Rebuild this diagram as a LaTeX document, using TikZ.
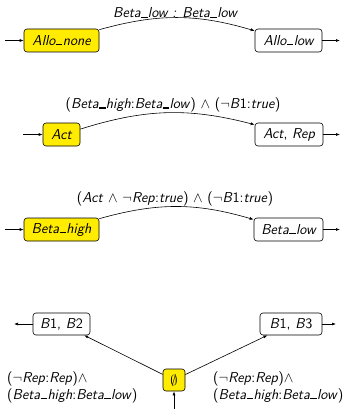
\documentclass[tikz,border=0pt]{standalone}
\usepackage{amssymb}
\usetikzlibrary{arrows.meta}
\definecolor{stateyellow}{RGB}{255,236,0}
\tikzset{
  state/.style={draw, rounded corners=3pt, line width=0.6pt, inner sep=0pt,
    minimum height=23pt, font=\sffamily\itshape},
  initstate/.style={state, fill=stateyellow},
  tr/.style={-{Latex[length=4pt,width=3pt]}, line width=0.6pt},
  lbl/.style={font=\sffamily\itshape, inner sep=0pt},
}
\newcommand{\up}[1]{\textup{#1}}
\newcommand{\tneg}{$\neg$}
\newcommand{\tand}{$\wedge$}
% short underscore sitting on the baseline
\newcommand{\us}{\kern0.03em\rule{0.45em}{0.085em}\kern0.03em}
\begin{document}
\begin{tikzpicture}[x=1pt,y=-1pt]
\useasboundingbox (0,0) rectangle (344,409);
\fontsize{14.4}{17}\selectfont
% row 1
\node[initstate, minimum width=75pt] (an) at (61.5,40.5) {Allo\us none};
\node[state, minimum width=67pt] (al) at (288.5,40.5) {Allo\us low};
\coordinate (an-in) at (5,40.5);
\coordinate (al-out) at (340,40.5);
\draw[tr] (an-in) -- (an);
\draw[tr] (al) -- (al-out);
\draw[tr] (an) to[bend left=16] (al);
\node[lbl] (l1) at (175,13) {Beta\us low : Beta\us low};
% row 2
\node[initstate, minimum width=37pt] (ac) at (61.5,134.5) {Act};
\node[state, minimum width=68pt] (ar) at (289,134.5) {Act\up{,} Rep};
\coordinate (ac-in) at (23,134.5);
\coordinate (ar-out) at (340,134.5);
\draw[tr] (ac-in) -- (ac);
\draw[tr] (ar) -- (ar-out);
\draw[tr] (ac) to[bend left=16] (ar);
\node[lbl] (l2) at (173,105) {\up{(}Beta\us high\up{:}Beta\us low\up{)} \up{\tand} \up{(}\up{\tneg}B\up{1:}true\up{)}};
% row 3
\node[initstate, minimum width=75pt] (bh) at (61.5,229.5) {Beta\us high};
\node[state, minimum width=69pt] (bl) at (288.5,229.5) {Beta\us low};
\coordinate (bh-in) at (5,229.5);
\coordinate (bl-out) at (340,229.5);
\draw[tr] (bh-in) -- (bh);
\draw[tr] (bl) -- (bl-out);
\draw[tr] (bh) to[bend left=16] (bl);
\node[lbl] (l3) at (175,199) {\up{(}Act \up{\tand} \up{\tneg}Rep\up{:}true\up{)} \up{\tand} \up{(}\up{\tneg}B\up{1:}true\up{)}};
% row 4
\node[state, minimum width=57pt, minimum height=22pt] (b12) at (61.5,324) {B\up{1,} B\up{2}};
\node[state, minimum width=62pt, minimum height=22pt] (b13) at (291,324) {B\up{1,} B\up{3}};
\node[initstate, minimum width=22pt, minimum height=22pt] (e) at (174,380) {$\emptyset$};
\coordinate (b12-out) at (14,324);
\coordinate (b13-out) at (336,324);
\coordinate (e-in) at (174,409);
\draw[tr] (b12) -- (b12-out);
\draw[tr] (b13) -- (b13-out);
\draw[tr] (e-in) -- (e);
\draw[tr] (e) -- (b12);
\draw[tr] (e) -- (b13);
\node[lbl, anchor=north west, align=left] (l4) at (7,371) {\up{(\tneg}Rep\up{:}Rep\up{)\tand}\\\up{(}Beta\us high\up{:}Beta\us low\up{)}};
\node[lbl, anchor=north west, align=left] (l5) at (213,371) {\up{(\tneg}Rep\up{:}Rep\up{)\tand}\\\up{(}Beta\us high\up{:}Beta\us low\up{)}};
\end{tikzpicture}
\end{document}
